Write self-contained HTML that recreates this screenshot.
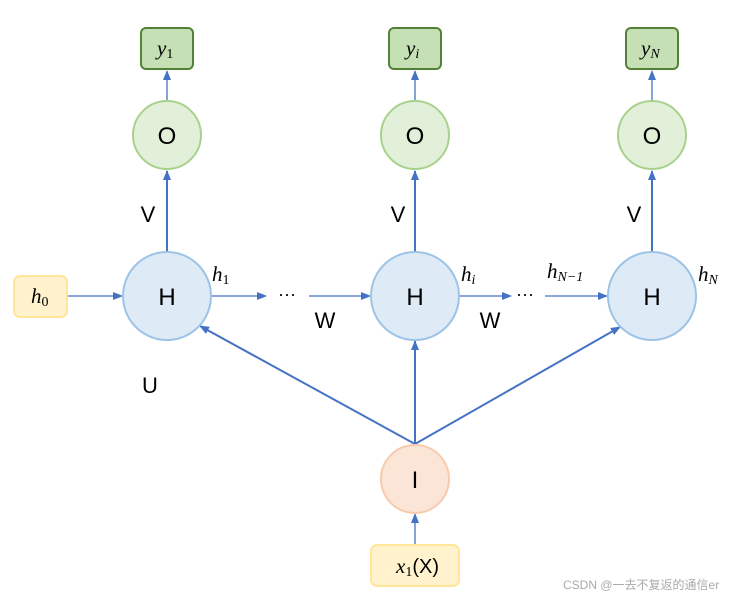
<!DOCTYPE html>
<html><head><meta charset="utf-8"><style>body{margin:0;background:#fff}</style></head><body>
<svg width="742" height="598" xmlns="http://www.w3.org/2000/svg" font-family="Liberation Sans, sans-serif">
<defs><marker id="a" markerWidth="10" markerHeight="10" refX="9" refY="5" orient="auto" markerUnits="userSpaceOnUse"><path d="M0,1 L10,5 L0,9 Z" fill="#4472c4"/></marker></defs>
<g stroke="#4472c4" stroke-width="1.3" fill="none" marker-end="url(#a)">
<line x1="167" y1="101" x2="167" y2="71"/><line x1="415" y1="101" x2="415" y2="71"/><line x1="652" y1="101" x2="652" y2="71"/>
<line x1="167" y1="252" x2="167" y2="171" stroke-width="2"/><line x1="415" y1="252" x2="415" y2="171" stroke-width="2"/><line x1="652" y1="252" x2="652" y2="171" stroke-width="2"/>
<line x1="67" y1="296" x2="122" y2="296"/><line x1="211" y1="296" x2="266" y2="296"/><line x1="309" y1="296" x2="370" y2="296"/>
<line x1="459" y1="296" x2="511" y2="296"/><line x1="545" y1="296" x2="607" y2="296"/>
<line x1="415" y1="444" x2="200" y2="326" stroke-width="2"/><line x1="415" y1="444" x2="415" y2="341" stroke-width="2"/><line x1="415" y1="444" x2="620" y2="327" stroke-width="2"/>
<line x1="415" y1="545" x2="415" y2="514"/>
</g>
<g stroke="#548235" stroke-width="2" fill="#c5e0b4"><rect x="141" y="28" width="52" height="41" rx="5"/><rect x="389" y="28" width="52" height="41" rx="5"/><rect x="626" y="28" width="52" height="41" rx="5"/></g>
<g stroke="#a9d18e" stroke-width="2" fill="#e2f0d9"><circle cx="167" cy="135" r="34"/><circle cx="415" cy="135" r="34"/><circle cx="652" cy="135" r="34"/></g>
<g stroke="#9dc3e6" stroke-width="2" fill="#deebf7"><circle cx="167" cy="296" r="44"/><circle cx="415" cy="296" r="44"/><circle cx="652" cy="296" r="44"/></g>
<circle cx="415" cy="479" r="34" fill="#fbe5d6" stroke="#f8cbad" stroke-width="2"/>
<g stroke="#ffe699" stroke-width="2" fill="#fff2cc"><rect x="14" y="276" width="53" height="41" rx="6"/><rect x="371" y="545" width="88" height="41" rx="6"/></g>
<g font-size="24" text-anchor="middle" fill="#000"><text x="167" y="144">O</text><text x="415" y="144">O</text><text x="652" y="144">O</text>
<text x="167" y="305">H</text><text x="415" y="305">H</text><text x="652" y="305">H</text><text x="415" y="488">I</text>
<text x="148" y="222" font-size="22">V</text><text x="398" y="222" font-size="22">V</text><text x="634" y="222" font-size="22">V</text>
<text x="150" y="393" font-size="22">U</text><text x="325" y="328" font-size="22">W</text><text x="490" y="328" font-size="22">W</text>
<text x="287" y="300" font-size="18">···</text><text x="525" y="300" font-size="18">···</text></g>
<g font-family="Liberation Serif, serif" font-style="italic" font-size="21" fill="#000">
<text x="157" y="55">y<tspan font-size="14" font-style="normal" dy="3">1</tspan></text>
<text x="406" y="55">y<tspan font-size="14" dy="3">i</tspan></text>
<text x="641" y="55">y<tspan font-size="14" dy="3">N</tspan></text>
<text x="31" y="303">h<tspan font-size="14" font-style="normal" dy="3">0</tspan></text>
<text x="212" y="281">h<tspan font-size="14" font-style="normal" dy="3">1</tspan></text>
<text x="461" y="281">h<tspan font-size="14" dy="3">i</tspan></text>
<text x="547" y="278">h<tspan font-size="14" dy="3">N−1</tspan></text>
<text x="698" y="281">h<tspan font-size="14" dy="3">N</tspan></text>
<text x="396" y="573">x<tspan font-size="14" font-style="normal" dy="3">1</tspan><tspan font-family="Liberation Sans, sans-serif" font-style="normal" font-size="20" dy="-3">(X)</tspan></text>
</g>
<text x="563" y="589" font-size="12" fill="#aaa" font-family="Liberation Sans, Noto Sans CJK SC, sans-serif">CSDN @一去不复返的通信er</text>
</svg>
</body></html>
